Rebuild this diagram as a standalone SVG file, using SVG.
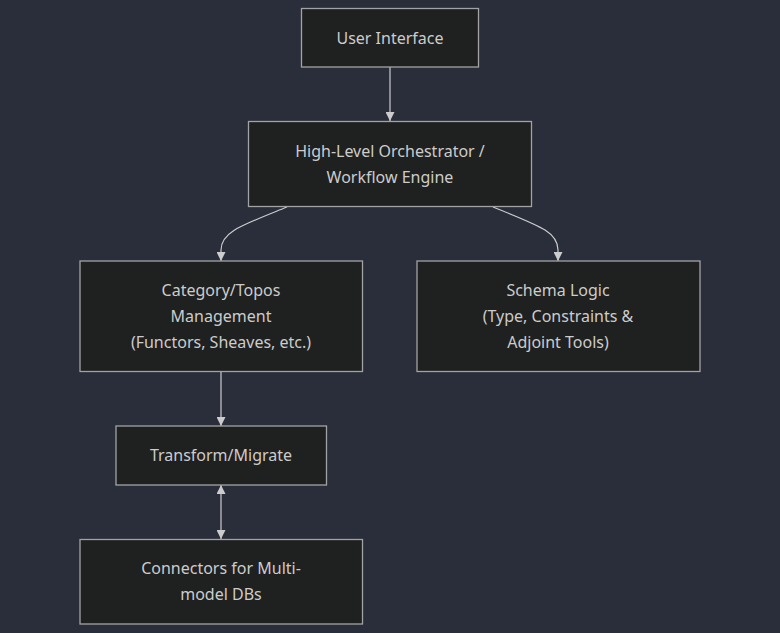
<svg xmlns="http://www.w3.org/2000/svg" width="780" height="633" viewBox="0 0 780 633">
<defs>
<style>
.node rect{fill:#1f2020;stroke:#a3a3a3;stroke-width:1.3}
.node text{fill:#cccccc;font-family:"Noto Sans","Liberation Sans",Arial,sans-serif;font-size:16px;text-anchor:middle}
.edge{fill:none;stroke:#cccccc;stroke-width:1.2}
</style>
<marker id="arr" viewBox="0 0 10 10" refX="10" refY="5" markerWidth="9" markerHeight="9" markerUnits="userSpaceOnUse" orient="auto-start-reverse">
<path d="M0,0 L10,5 L0,10 z" fill="#cccccc"/>
</marker>
</defs>
<rect width="780" height="633" fill="#2a2e3a"/>
<g id="connectors">
<path class="edge" d="M390,67 L390,121" marker-end="url(#arr)"/>
<path class="edge" d="M287,207 C240,226 221,232 221,250 L221,261" marker-end="url(#arr)"/>
<path class="edge" d="M493,207 C540,226 558,232 558,250 L558,261" marker-end="url(#arr)"/>
<path class="edge" d="M221,371.5 L221,426" marker-end="url(#arr)"/>
<path class="edge" d="M221,485 L221,539" marker-start="url(#arr)" marker-end="url(#arr)"/>
</g>
<g id="ui" class="node">
<rect x="301.5" y="8.5" width="177" height="58.5"/>
<text x="390" y="43.5">User Interface</text>
</g>
<g id="orch" class="node">
<rect x="248.5" y="121.5" width="283" height="85"/>
<text x="390" y="157">High-Level Orchestrator /</text>
<text x="390" y="182.5">Workflow Engine</text>
</g>
<g id="category" class="node">
<rect x="80" y="261" width="282.5" height="110.5"/>
<text x="221" y="296">Category/Topos</text>
<text x="221" y="321.5">Management</text>
<text x="221" y="347.5">(Functors, Sheaves, etc.)</text>
</g>
<g id="schema" class="node">
<rect x="417" y="261" width="283" height="110.5"/>
<text x="558" y="296">Schema Logic</text>
<text x="558" y="321.5">(Type, Constraints &amp;</text>
<text x="558" y="347.5">Adjoint Tools)</text>
</g>
<g id="transform" class="node">
<rect x="116" y="426" width="210.5" height="59"/>
<text x="221" y="461">Transform/Migrate</text>
</g>
<g id="dbconn" class="node">
<rect x="80" y="539.5" width="282.5" height="84.5"/>
<text x="221" y="574">Connectors for Multi-</text>
<text x="221" y="599.5">model DBs</text>
</g>
</svg>
